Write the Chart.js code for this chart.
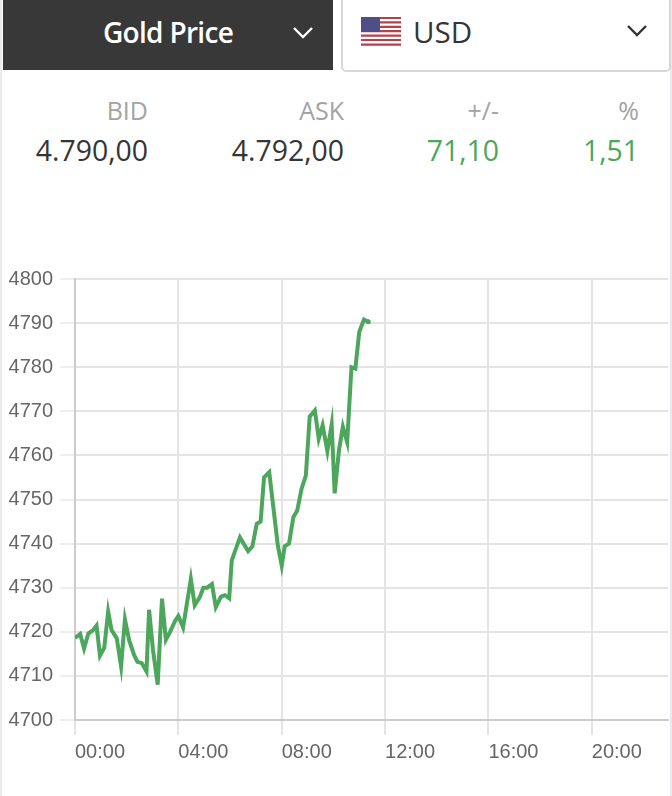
<!DOCTYPE html>
<html lang="en">

<head>
    <meta charset="UTF-8">
    <title>Gold Price</title>
    <style>
        html,
        body {
            margin: 0;
            padding: 0;
            width: 672px;
            height: 796px;
            overflow: hidden;
            background: #fff;
            font-family: "Open Sans", sans-serif;
            color: #353535;
        }

        .edge {
            position: absolute;
            top: 0;
            width: 2px;
            height: 796px;
            background: #e9e9f0;
        }

        .metal {
            position: absolute;
            left: 3px;
            top: 0;
            width: 330px;
            height: 70px;
            background: #383838;
            color: #fff;
            font-size: 28px;
            font-weight: 600;
            letter-spacing: -0.7px;
        }

        .metal span {
            position: absolute;
            left: 100px;
            top: 13px;
        }

        .currency {
            position: absolute;
            left: 341px;
            top: -4px;
            width: 326px;
            height: 72px;
            border: 2px solid #d8d8d8;
            border-radius: 5px;
            font-size: 29.5px;
        }

        .currency span {
            position: absolute;
            left: 70px;
            top: 13px;
        }

        .flag {
            position: absolute;
            left: 18px;
            top: 19px;
        }

        .chev {
            position: absolute;
        }

        .cell {
            position: absolute;
            text-align: right;
            white-space: nowrap;
        }

        .head {
            color: #a3a3a3;
            top: 93px;
            font-size: 25px;
        }

        .val {
            top: 131px;
            font-size: 28.4px;
        }

        .up {
            color: #4ca65c;
        }

        #chartBox {
            position: absolute;
            left: 0;
            top: 260px;
            width: 672px;
            height: 536px;
        }
    </style>
</head>

<body>
    <script src="https://cdn.jsdelivr.net/npm/chart.js"></script>

    <div class="edge" style="left:0"></div>
    <div class="edge" style="left:670px"></div>
    <div class="metal">
        <span>Gold Price</span>
        <svg class="chev" style="left:289px;top:25px" width="22" height="16" viewBox="0 0 22 16">
            <path d="M2 3 L11 12 L20 3" fill="none" stroke="#fff" stroke-width="2.4" />
        </svg>
    </div>
    <div class="currency">
        <svg class="flag" width="40" height="29" viewBox="0 0 40 29">
            <rect width="40" height="29" fill="#fff" />
            <path d="M0 1h40M0 5.4h40M0 9.8h40M0 14.2h40M0 18.6h40M0 23h40M0 27.6h40" stroke="#b5424a" stroke-width="2.2" />
            <rect width="19" height="15" fill="#4d4f86" />
        </svg>
        <span>USD</span>
        <svg class="chev" style="left:283px;top:25px" width="22" height="16" viewBox="0 0 22 16">
            <path d="M2 3 L11 12 L20 3" fill="none" stroke="#333" stroke-width="2.4" />
        </svg>
    </div>

    <div class="cell head" style="right:524px">BID</div>
    <div class="cell head" style="right:328px">ASK</div>
    <div class="cell head" style="right:173px">+/-</div>
    <div class="cell head" style="right:33px">%</div>
    <div class="cell val" style="right:524px">4.790,00</div>
    <div class="cell val" style="right:328px">4.792,00</div>
    <div class="cell val up" style="right:173px">71,10</div>
    <div class="cell val up" style="right:33px">1,51</div>

    <div id="chartBox"><canvas id="goldChart" width="672" height="536"></canvas></div>

    <script>
        // minutes since midnight
        const minutes = [0, 12, 21, 31, 42, 50, 58, 68, 77, 85, 97, 107, 116, 126, 137, 145, 155, 166, 172, 181,
            192, 202, 211, 220, 232, 240, 251, 269, 278, 290, 298, 307, 318, 327, 339, 348, 358, 364, 383, 402,
            412, 422, 431, 439, 451, 471, 480, 487, 497, 507, 516, 526, 536, 545, 557, 566, 575, 586, 596, 603, 613,
            622, 632, 642, 651, 660, 671, 681];

        const prices = [4718.6, 4719.5, 4716.2, 4719.6, 4720.4, 4721.4, 4714.6, 4716.4, 4724.6, 4720.4, 4718.5, 4712.2,
            4722.8, 4718.0, 4714.8, 4713.2, 4712.9, 4711.0, 4725.0, 4716.0, 4708.0, 4727.5, 4718.2, 4719.8, 4722.4, 4723.6,
            4721.0, 4732.0, 4726.0, 4727.9, 4730.0, 4730.0, 4730.8, 4725.6, 4728.0, 4728.3, 4727.6, 4736.2, 4741.4, 4738.3,
            4739.4, 4744.5, 4745.0, 4755.0, 4756.2, 4739.6, 4735.0, 4739.4, 4740.0, 4746.0, 4747.5, 4752.4, 4755.4, 4768.8, 4770.2,
            4763.8, 4766.8, 4761.0, 4767.0, 4751.4, 4761.2, 4766.5, 4763.0, 4780.0, 4779.7, 4788.0, 4790.8, 4790.3];

        const xTicks = [0, 240, 480, 720, 960, 1200];
        const xTickLabels = ['00:00', '04:00', '08:00', '12:00', '16:00', '20:00'];

        const yMin = 4700;
        const yMax = 4800;
        const yStep = 10;
        const xMax = 1377;

        const ctx = document.getElementById('goldChart').getContext('2d');
        new Chart(ctx, {
            type: 'line',
            data: {
                datasets: [{
                    data: minutes.map((m, i) => ({ x: m, y: prices[i] })),
                    borderColor: '#4ca65c',
                    backgroundColor: '#4ca65c',
                    borderWidth: 4,
                    pointRadius: c => (c.dataIndex === prices.length - 1 ? 2.5 : 0),
                    pointBorderWidth: 0,
                    tension: 0
                }]
            },
            options: {
                responsive: false,
                animation: false,
                layout: { padding: { top: 17, right: 3, bottom: 0, left: 0 } },
                plugins: { legend: { display: false }, tooltip: { enabled: false } },
                scales: {
                    x: {
                        type: 'linear',
                        min: 0,
                        max: xMax,
                        afterBuildTicks: axis => {
                            axis.ticks = xTicks.map(v => ({ value: v }));
                        },
                        afterFit: axis => {
                            axis.height = 76;
                        },
                        grid: { color: '#e4e4e4', tickColor: '#e4e4e4', lineWidth: 2, tickLength: 15 },
                        border: { color: '#cccccc', width: 2 },
                        ticks: {
                            align: 'start',
                            maxRotation: 0,
                            padding: 5,
                            color: '#666',
                            font: { family: 'Liberation Sans', size: 20 },
                            callback: v => xTickLabels[xTicks.indexOf(v)]
                        }
                    },
                    y: {
                        min: yMin,
                        max: yMax,
                        afterFit: axis => {
                            axis.width = 75;
                        },
                        ticks: {
                            stepSize: yStep,
                            padding: 7,
                            color: '#666',
                            font: { family: 'Liberation Sans', size: 20 },
                            callback: v => String(v)
                        },
                        grid: { color: '#e4e4e4', tickColor: '#eeeeee', lineWidth: 2, tickLength: 15 },
                        border: { color: '#cccccc', width: 2 }
                    }
                }
            }
        });
    </script>
</body>

</html>
